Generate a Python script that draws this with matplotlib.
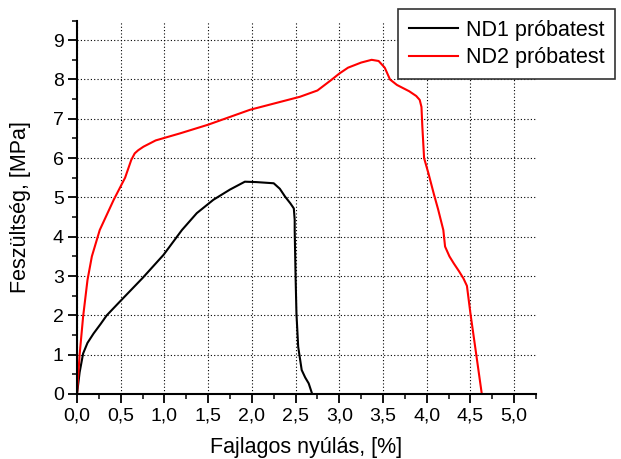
import numpy as np
import matplotlib
matplotlib.use('Agg')
import matplotlib.pyplot as plt
from matplotlib.ticker import MultipleLocator

plt.rcParams['font.family'] = ['Liberation Sans', 'DejaVu Sans']

# ND1 próbatest
nd1_x = [0.0, 0.03, 0.07, 0.12, 0.19, 0.27, 0.34, 0.49, 0.75, 0.99, 1.2, 1.37,
         1.56, 1.75, 1.92, 2.05, 2.25, 2.32, 2.38, 2.44, 2.48, 2.49, 2.49,
         2.50, 2.51, 2.53, 2.57, 2.61, 2.65, 2.69]
nd1_y = [0.0, 0.55, 1.03, 1.3, 1.54, 1.78, 2.0, 2.35, 2.95, 3.54, 4.17, 4.6,
         4.94, 5.2, 5.4, 5.39, 5.36, 5.22, 5.02, 4.85, 4.72, 4.43, 4.17,
         3.0, 2.05, 1.2, 0.61, 0.42, 0.27, 0.0]

# ND2 próbatest
nd2_x = [0.0, 0.03, 0.07, 0.12, 0.17, 0.26, 0.42, 0.55, 0.62, 0.66, 0.70, 0.76,
         0.9, 1.18, 1.5, 1.98, 2.55, 2.75, 2.91, 3.0, 3.1, 3.25, 3.37, 3.45,
         3.52, 3.58, 3.66, 3.8, 3.88, 3.92, 3.94, 3.95, 3.97, 4.02, 4.08, 4.13,
         4.19, 4.21, 4.26, 4.31, 4.37, 4.42, 4.46, 4.50, 4.57, 4.63]
nd2_y = [0.0, 1.0, 1.97, 2.9, 3.5, 4.17, 4.94, 5.5, 5.95, 6.12, 6.2, 6.29,
         6.45, 6.63, 6.85, 7.23, 7.56, 7.72, 7.99, 8.15, 8.3, 8.43, 8.5, 8.47,
         8.3, 8.0, 7.86, 7.7, 7.58, 7.48, 7.3, 6.8, 6.0, 5.61, 5.1, 4.7,
         4.17, 3.75, 3.5, 3.32, 3.12, 2.94, 2.75, 2.05, 0.95, 0.0]

x_ticks = [0.0, 0.5, 1.0, 1.5, 2.0, 2.5, 3.0, 3.5, 4.0, 4.5, 5.0]
x_ticklabels = ['0,0', '0,5', '1,0', '1,5', '2,0', '2,5', '3,0', '3,5', '4,0', '4,5', '5,0']
y_ticks = [0, 1, 2, 3, 4, 5, 6, 7, 8, 9]

fig = plt.figure(figsize=(6.21, 4.59), dpi=100)
ax = fig.add_axes([77 / 621, 65 / 459, 459 / 621, 373.5 / 459])

ax.plot(nd1_x, nd1_y, color='black', lw=1.5, label='ND1 próbatest')
ax.plot(nd2_x, nd2_y, color='red', lw=1.5, label='ND2 próbatest')

ax.set_xlim(0, 5.25)
ax.set_ylim(0, 9.5)
ax.set_xticks(x_ticks)
ax.set_xticklabels(x_ticklabels)
ax.set_yticks(y_ticks)
ax.xaxis.set_minor_locator(MultipleLocator(0.25))
ax.yaxis.set_minor_locator(MultipleLocator(0.5))

for side in ['top', 'right']:
    ax.spines[side].set_visible(False)
for side in ['left', 'bottom']:
    ax.spines[side].set_linewidth(1.5)

ax.tick_params(which='major', direction='out', length=6.5, width=1.3, labelsize=14, pad=3)
ax.tick_params(which='minor', direction='out', length=3.5, width=1.1)
ax.grid(True, which='major', color='black', linestyle=(0, (1, 2)), lw=0.8)

ax.set_xlabel('Fajlagos nyúlás, [%]', fontsize=15.5, labelpad=9)
ax.set_ylabel('Feszültség, [MPa]', fontsize=15.5, labelpad=16)

leg = ax.legend(loc='upper left', bbox_to_anchor=(398 / 621, 1 - 9 / 459),
                bbox_transform=fig.transFigure, fontsize=15.5, frameon=True,
                fancybox=False, framealpha=1, edgecolor='#333333',
                handlelength=2.3, handletextpad=0.35, borderpad=0.5,
                labelspacing=0.3, borderaxespad=0)
leg.get_frame().set_linewidth(1.2)

fig.savefig('out.png', dpi=100)
